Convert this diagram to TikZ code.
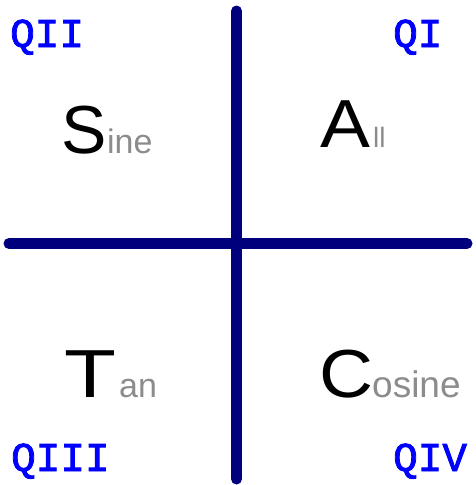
\documentclass[tikz,border=0pt]{standalone}
\usepackage{fontspec}
\setmainfont{Liberation Sans}
\newfontfamily\qfont[FakeBold=2]{Liberation Mono}
\definecolor{axisnavy}{RGB}{0,0,125}
\definecolor{quadblue}{RGB}{0,0,255}
\definecolor{smallgray}{RGB}{140,140,140}
\begin{document}
\begin{tikzpicture}[x=1pt,y=-1pt,
  axis/.style={line width=11pt,draw=axisnavy,line cap=round},
  qlabel/.style={anchor=base west,inner sep=0pt,text=quadblue,font=\qfont\fontsize{41}{41}\selectfont},
  bigletter/.style={anchor=base west,inner sep=0pt,text=black,font=\fontsize{68}{68}\selectfont},
  smalltext/.style={anchor=base west,inner sep=0pt,text=smallgray,font=\fontsize{34}{34}\selectfont}]
\useasboundingbox (0,0) rectangle (475,485);
\coordinate (top) at (236.5,11);
\coordinate (bottom) at (236.5,479);
\coordinate (left) at (9,243.5);
\coordinate (right) at (467,243.5);
\draw[axis] (left) -- (right);
\draw[axis] (top) -- (bottom);
\node[qlabel] (q2) at (10,47) {QII};
\node[qlabel] (q1) at (393,47) {QI};
\node[qlabel] (q3) at (11,471) {QIII};
\node[qlabel] (q4) at (393,471) {QIV};
\node[bigletter] (s) at (61,153) {S};
\node[smalltext] (sine) at (107,153) {ine};
\node[bigletter,xscale=1.1] (a) at (320,147) {A};
\node[smalltext,font=\fontsize{28}{28}\selectfont] (all) at (373,147) {ll};
\node[bigletter,xscale=1.25] (t) at (64,397) {T};
\node[smalltext] (tan) at (119,397) {an};
\node[bigletter,xscale=1.1] (c) at (319,397) {C};
\node[smalltext,font=\fontsize{37}{37}\selectfont] (cos) at (372,397) {osine};
\end{tikzpicture}
\end{document}
